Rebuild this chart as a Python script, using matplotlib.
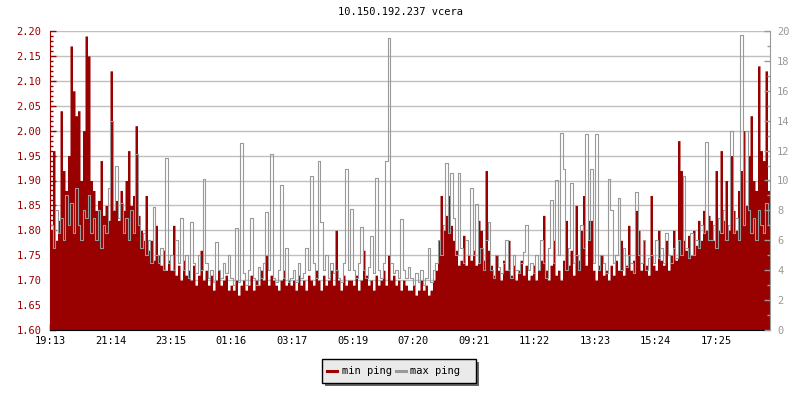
import numpy as np
import matplotlib.pyplot as plt
from matplotlib.patches import Rectangle
from matplotlib.lines import Line2D

plt.rcParams['font.family'] = ['DejaVu Sans Mono']

title = "10.150.192.237 vcera"
time_labels = ["19:13", "21:14", "23:15", "01:16", "03:17", "05:19",
               "07:20", "09:21", "11:22", "13:23", "15:24", "17:25"]
# minutes after 19:13 for each label
label_minutes = [0, 121, 242, 363, 484, 606, 727, 848, 969, 1090, 1211, 1332]

# one sample every 5 minutes, 19:13 -> 19:13 next day
step_min = 5

# min ping (left axis)
min_ping = [
    1.80, 1.96, 1.78, 1.82, 2.04, 1.92, 1.88, 1.95, 2.17, 2.08, 2.03, 2.04,
    1.90, 2.00, 2.19, 2.15, 1.90, 1.88, 1.84, 1.86, 1.94, 1.83, 1.85, 1.82,
    2.12, 1.84, 1.86, 1.82, 1.88, 1.84, 1.90, 1.96, 1.85, 1.87, 2.01, 1.83,
    1.80, 1.78, 1.87, 1.76, 1.78, 1.74, 1.81, 1.75, 1.73, 1.76, 1.72, 1.74,
    1.72, 1.81, 1.71, 1.73, 1.70, 1.74, 1.71, 1.72, 1.70, 1.73, 1.69, 1.71,
    1.76, 1.70, 1.72, 1.69, 1.71, 1.68, 1.70, 1.72, 1.69, 1.70, 1.71, 1.68,
    1.69, 1.68, 1.70, 1.67, 1.69, 1.70, 1.68, 1.69, 1.71, 1.68, 1.70, 1.69,
    1.72, 1.70, 1.75, 1.69, 1.71, 1.70, 1.69, 1.68, 1.70, 1.72, 1.69, 1.70,
    1.69, 1.70, 1.68, 1.71, 1.69, 1.70, 1.68, 1.71, 1.70, 1.69, 1.72, 1.70,
    1.68, 1.71, 1.69, 1.70, 1.72, 1.69, 1.80, 1.70, 1.68, 1.71, 1.69, 1.70,
    1.70, 1.69, 1.71, 1.68, 1.70, 1.76, 1.71, 1.69, 1.70, 1.68, 1.71, 1.69,
    1.70, 1.72, 1.69, 1.75, 1.70, 1.71, 1.69, 1.70, 1.68, 1.70, 1.69, 1.68,
    1.68, 1.69, 1.67, 1.68, 1.70, 1.68, 1.69, 1.67, 1.68, 1.70, 1.72, 1.78,
    1.87, 1.80, 1.83, 1.87, 1.81, 1.78, 1.76, 1.73, 1.74, 1.79, 1.73, 1.75,
    1.74, 1.76, 1.73, 1.82, 1.80, 1.74, 1.92, 1.76, 1.73, 1.71, 1.75, 1.72,
    1.70, 1.74, 1.72, 1.78, 1.71, 1.73, 1.70, 1.72, 1.74, 1.71, 1.73, 1.70,
    1.71, 1.73, 1.70, 1.72, 1.74, 1.83, 1.72, 1.70, 1.73, 1.78, 1.71, 1.72,
    1.70, 1.74, 1.82, 1.73, 1.76, 1.71, 1.85, 1.74, 1.80, 1.87, 1.73, 1.82,
    1.82, 1.72, 1.70, 1.73, 1.75, 1.71, 1.72, 1.70, 1.73, 1.71, 1.74, 1.72,
    1.78, 1.71, 1.73, 1.81, 1.72, 1.74, 1.84, 1.80, 1.72, 1.78, 1.73, 1.71,
    1.87, 1.73, 1.72, 1.80, 1.74, 1.73, 1.78, 1.72, 1.75, 1.80, 1.74, 1.98,
    1.92, 1.78, 1.76, 1.79, 1.75, 1.80, 1.77, 1.82, 1.78, 1.84, 1.80, 1.83,
    1.82, 1.78, 1.92, 1.80, 1.96, 1.82, 1.90, 1.80, 1.95, 1.84, 1.80, 1.88,
    1.92, 2.00, 1.85, 1.95, 2.03, 1.90, 1.88, 2.13, 1.96, 1.94, 2.12, 1.88,
]

# max ping (right axis)
max_ping = [
    7.0, 5.5, 8.0, 6.5, 7.5, 6.0, 9.0, 7.0, 8.5, 6.5, 9.5, 7.0,
    6.0, 8.0, 7.5, 9.0, 6.5, 7.5, 6.0, 8.0, 5.5, 7.0, 6.5, 9.5,
    14.0, 8.0, 11.0, 7.5, 8.5, 6.5, 7.5, 6.0, 8.0, 6.5, 11.8, 7.0,
    5.5, 6.5, 5.0, 6.0, 4.5, 8.2, 5.0, 4.5, 5.5, 4.0, 11.5, 4.5,
    5.0, 4.0, 6.0, 4.5, 7.5, 4.0, 5.0, 3.5, 7.2, 4.5, 3.8, 5.0,
    4.0, 10.1, 4.5, 3.5, 4.0, 3.2, 5.9, 4.0, 3.5, 4.5, 3.8, 5.0,
    3.5, 3.0, 6.8, 3.2, 12.5, 3.8, 3.0, 4.0, 7.5, 3.5, 3.0, 4.2,
    3.5, 4.5, 7.9, 4.0, 11.8, 3.5, 3.2, 4.0, 9.7, 3.5, 5.5, 3.2,
    3.5, 4.0, 3.2, 4.5, 3.5, 3.8, 5.5, 4.0, 10.3, 4.5, 3.5, 11.3,
    7.2, 4.0, 5.0, 3.5, 4.5, 3.8, 4.0, 3.5, 3.2, 4.5, 10.8, 4.0,
    8.1, 4.0, 3.5, 4.5, 6.9, 4.0, 3.5, 4.2, 6.3, 3.8, 10.2, 4.0,
    3.5, 4.5, 11.3, 19.5, 4.5, 3.8, 4.0, 3.5, 7.4, 4.0, 3.5, 4.2,
    3.5, 3.0, 3.8, 3.2, 4.0, 3.0, 3.5, 5.5, 3.2, 4.0, 4.5, 6.0,
    5.0, 7.0, 11.2, 6.5, 10.5, 7.5, 5.0, 10.5, 5.5, 4.5, 6.0, 5.0,
    9.5, 5.0, 8.4, 4.5, 5.5, 4.0, 6.0, 7.2, 4.0, 3.5, 5.0, 4.2,
    3.8, 4.5, 6.0, 4.0, 3.5, 5.0, 4.0, 3.8, 4.5, 5.2, 7.0, 4.0,
    4.5, 3.8, 5.0, 4.0, 6.0, 4.5, 3.5, 5.5, 8.7, 4.5, 10.0, 5.0,
    13.2, 10.8, 4.0, 5.5, 9.8, 4.5, 5.0, 4.0, 7.0, 5.5, 13.1, 6.0,
    10.8, 4.5, 13.1, 4.0, 5.0, 4.5, 3.8, 10.1, 8.0, 4.5, 5.0, 8.8,
    4.0, 5.5, 4.2, 5.0, 4.5, 3.8, 9.2, 5.0, 4.5, 6.0, 4.0, 4.8,
    5.0, 4.5, 6.0, 4.8, 5.5, 4.5, 6.5, 5.0, 4.5, 5.5, 4.8, 6.0,
    5.0, 10.3, 5.5, 4.8, 6.5, 5.0, 6.0, 5.5, 7.0, 6.5, 12.6, 6.0,
    6.0, 7.0, 5.5, 7.5, 6.5, 8.0, 6.0, 7.0, 13.3, 6.5, 7.5, 6.0,
    19.7, 7.0, 13.3, 8.0, 6.5, 7.5, 6.0, 8.0, 7.0, 6.5, 8.5, 7.0,
]

RED = '#990000'
GRAY = '#999999'
FS = 7.5

t = np.arange(len(min_ping)) * step_min
t_end = len(min_ping) * step_min

fig = plt.figure(figsize=(8, 4), dpi=100)
ax = fig.add_axes([50 / 800, 70 / 400, 720 / 800, 299 / 400])
ax2 = ax.twinx()

# min ping as filled bars
x_edges = np.append(t, t_end)
y_edges = np.append(min_ping, min_ping[-1])
ax.fill_between(x_edges, 1.6, y_edges, step='post', color=RED, lw=0, zorder=2)

# max ping as a stepped line on the right axis
ax2.step(t + step_min / 2, max_ping, where='mid', color=GRAY, lw=0.8)

ax.set_xlim(0, t_end)
ax.set_ylim(1.6, 2.2)
ax2.set_ylim(0, 20)

ax.set_yticks(np.arange(1.6, 2.2001, 0.05))
ax.set_yticks(np.arange(1.6, 2.2001, 0.01), minor=True)
ax.set_yticklabels([f"{v:.2f}" for v in np.arange(1.6, 2.2001, 0.05)])
ax.yaxis.grid(True, color='#c0c0c0', lw=1)
ax.set_axisbelow(True)

ax2.set_yticks(range(0, 21, 2))
ax2.set_yticks(range(0, 21), minor=True)

ax.set_xticks(label_minutes)
ax.set_xticklabels(time_labels)

ax.tick_params(axis='y', which='major', direction='in', length=4, width=1,
               color=RED, labelcolor=RED, labelsize=FS, pad=6)
ax.tick_params(axis='y', which='minor', direction='in', length=2.5, width=1, color=RED)
ax2.tick_params(axis='y', which='major', direction='in', length=4, width=1,
                color=GRAY, labelcolor=GRAY, labelsize=FS, pad=5)
ax2.tick_params(axis='y', which='minor', direction='in', length=2.5, width=1, color=GRAY)
ax.tick_params(axis='x', direction='in', length=4, width=1, color='black',
               labelsize=FS, pad=4)

for s in ['top', 'right']:
    ax.spines[s].set_visible(False)
for s in ['top', 'left', 'bottom']:
    ax2.spines[s].set_visible(False)
ax.spines['left'].set_color(RED)
ax.spines['bottom'].set_color('black')
ax2.spines['right'].set_color(GRAY)

fig.text(0.5, 1 - 12 / 400, title, ha='center', va='center', fontsize=FS, color='black')

# legend box with drop shadow
def fx(px):
    return px / 800

def fy(py):
    return 1 - py / 400

fig.patches.append(Rectangle((fx(325), fy(386)), 154 / 800, 24 / 400,
                             transform=fig.transFigure, fc='#666666', ec='none', zorder=5))
fig.patches.append(Rectangle((fx(322), fy(383)), 154 / 800, 24 / 400,
                             transform=fig.transFigure, fc='#eaeaea', ec='black', lw=1, zorder=6))
fig.lines.append(Line2D([fx(327), fx(337)], [fy(371), fy(371)], transform=fig.transFigure,
                        color=RED, lw=2.2, zorder=7))
fig.text(fx(342), fy(370.5), "min ping", ha='left', va='center', fontsize=FS, zorder=7)
fig.lines.append(Line2D([fx(396), fx(406)], [fy(371), fy(371)], transform=fig.transFigure,
                        color=GRAY, lw=2.2, zorder=7))
fig.text(fx(410), fy(370.5), "max ping", ha='left', va='center', fontsize=FS, zorder=7)

fig.savefig('out.png', dpi=100)
